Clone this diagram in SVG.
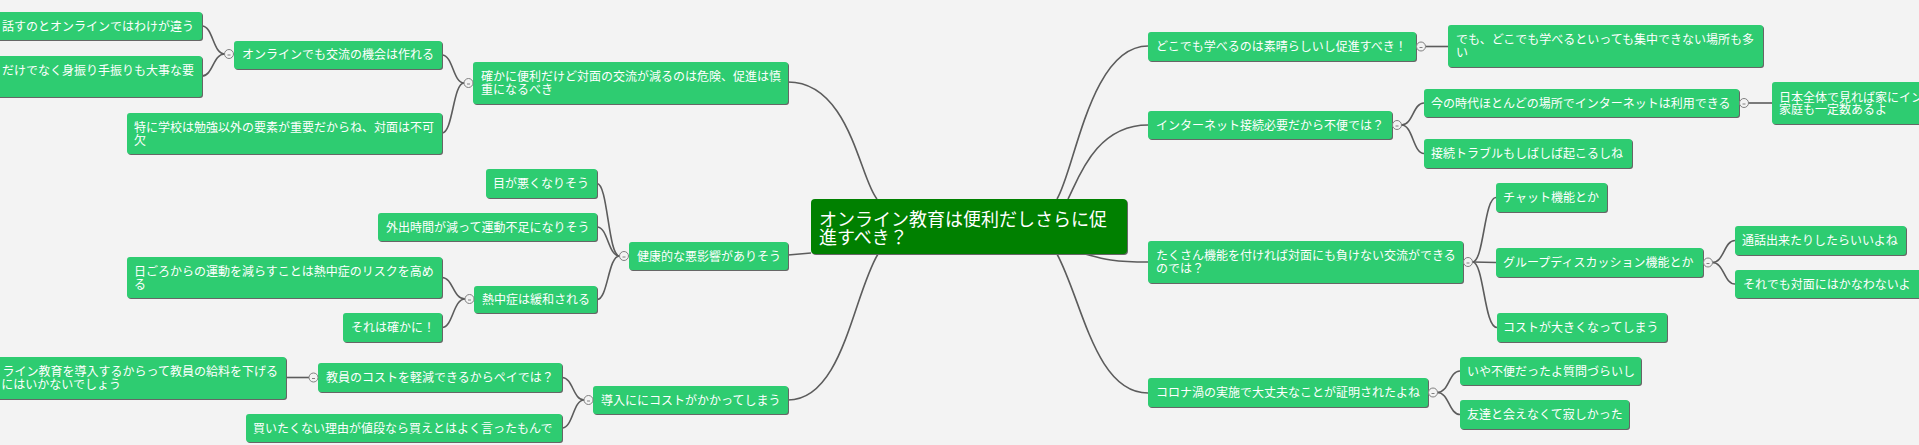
<svg xmlns="http://www.w3.org/2000/svg" width="1919" height="445" viewBox="0 0 1919 445">
<style>
.bg{fill:#f3f3f3}
.sh{fill:#666}
.n{fill:#2ecc71}
.root{fill:#008000}
.t{fill:#fff;font-family:"Noto Sans CJK JP","Noto Sans",sans-serif;font-size:12px}
.rt{fill:#fff;font-family:"Noto Sans CJK JP","Noto Sans",sans-serif;font-size:18px}
.l{fill:none;stroke:#5c5c5c;stroke-width:1.6}
.c{fill:#f3f3f3;stroke:#808080;stroke-width:1}
.d{stroke:#808080;stroke-width:1}
</style>
<rect class="bg" x="0" y="0" width="1919" height="445"/>
<g id="connectors">
<path class="l" d="M788 82 C850 82 860 180 877 199"/>
<path class="l" d="M788 255 L811 253"/>
<path class="l" d="M788 400 C843 400 853 295 878 254"/>
<path class="l" d="M1148 46 C1090 46 1075 170 1057 199"/>
<path class="l" d="M1148 125 C1095 125 1078 180 1068 199"/>
<path class="l" d="M1148 262 C1110 262 1100 258 1085 254"/>
<path class="l" d="M1148 393 C1095 393 1082 300 1057 254"/>
<path class="l" d="M464 83 C453 83 453 55 442 55"/>
<path class="l" d="M464 83 C453 83 453 133 442 133"/>
<path class="l" d="M224.5 54 C213 54 213 26 202 26"/>
<path class="l" d="M224.5 54 C213 54 213 76 202 76"/>
<path class="l" d="M619.5 256 C608 256 608 183.5 597 183.5"/>
<path class="l" d="M619.5 256 C608 256 608 227 597 227"/>
<path class="l" d="M619.5 256 C608 256 608 299.5 597 299.5"/>
<path class="l" d="M465 299 C453 299 453 277.5 442 277.5"/>
<path class="l" d="M465 299 C453 299 453 327.5 442 327.5"/>
<path class="l" d="M584 400 C573 400 573 377.5 562 377.5"/>
<path class="l" d="M584 400 C573 400 573 428 562 428"/>
<path class="l" d="M309 377.5 L286 377.5"/>
<path class="l" d="M1425.5 46.5 L1448 46.5"/>
<path class="l" d="M1401.5 125 C1413 125 1413 103 1424 103"/>
<path class="l" d="M1401.5 125 C1413 125 1413 153.5 1424 153.5"/>
<path class="l" d="M1748.5 103 L1772 103"/>
<path class="l" d="M1472.5 262 C1484 262 1484 197.5 1496 197.5"/>
<path class="l" d="M1472.5 262 L1496 262.5"/>
<path class="l" d="M1472.5 262 C1484 262 1484 327.5 1497 327.5"/>
<path class="l" d="M1712.5 262.5 C1724 262.5 1724 240.5 1735 240.5"/>
<path class="l" d="M1712.5 262.5 C1724 262.5 1724 284 1735 284"/>
<path class="l" d="M1437.5 392.5 C1449 392.5 1449 371 1460 371"/>
<path class="l" d="M1437.5 392.5 C1449 392.5 1449 414.5 1460 414.5"/>
</g>
<g id="root"><rect class="sh" x="812" y="200" width="316" height="55" rx="4"/><rect class="root" x="811" y="199" width="316" height="55" rx="4"/><text class="rt" x="819" y="226">オンライン教育は便利だしさらに促<tspan x="819" y="244">進すべき？</tspan></text></g>
<g id="n_kakuni"><rect class="sh" x="474" y="63" width="315" height="42" rx="3"/><rect class="n" x="473" y="62" width="315" height="42" rx="3"/><text class="t" x="481" y="81">確かに便利だけど対面の交流が減るのは危険、促進は慎<tspan x="481" y="94">重になるべき</tspan></text><circle class="c" cx="468.5" cy="83" r="4.5"/><line class="d" x1="467" y1="84" x2="470" y2="84"/></g>
<g id="n_online"><rect class="sh" x="235" y="42" width="208" height="28" rx="3"/><rect class="n" x="234" y="41" width="208" height="28" rx="3"/><text class="t" x="242" y="59">オンラインでも交流の機会は作れる</text><circle class="c" cx="229" cy="54" r="4.5"/><line class="d" x1="227.5" y1="55" x2="230.5" y2="55"/></g>
<g id="n_hanasu"><rect class="sh" x="-9" y="13" width="212" height="28" rx="3"/><rect class="n" x="-10" y="12" width="212" height="28" rx="3"/><text class="t" x="194" y="30.5" text-anchor="end">話すのとオンラインではわけが違う</text></g>
<g id="n_dake"><rect class="sh" x="-9" y="57" width="212" height="41" rx="3"/><rect class="n" x="-10" y="56" width="212" height="41" rx="3"/><text class="t" x="194" y="74.5" text-anchor="end">だけでなく身振り手振りも大事な要</text></g>
<g id="n_tokuni"><rect class="sh" x="128" y="114" width="315" height="41" rx="3"/><rect class="n" x="127" y="113" width="315" height="41" rx="3"/><text class="t" x="134" y="131.5">特に学校は勉強以外の要素が重要だからね、対面は不可<tspan x="134" y="144.5">欠</tspan></text></g>
<g id="n_me"><rect class="sh" x="487" y="170" width="111" height="29" rx="3"/><rect class="n" x="486" y="169" width="111" height="29" rx="3"/><text class="t" x="493" y="188">目が悪くなりそう</text></g>
<g id="n_gaishutsu"><rect class="sh" x="379" y="214" width="219" height="28" rx="3"/><rect class="n" x="378" y="213" width="219" height="28" rx="3"/><text class="t" x="386" y="231.5">外出時間が減って運動不足になりそう</text></g>
<g id="n_kenko"><rect class="sh" x="630" y="243" width="159" height="28" rx="3"/><rect class="n" x="629" y="242" width="159" height="28" rx="3"/><text class="t" x="637" y="260.5">健康的な悪影響がありそう</text><circle class="c" cx="624" cy="256" r="4.5"/><line class="d" x1="622.5" y1="257" x2="625.5" y2="257"/></g>
<g id="n_necchu"><rect class="sh" x="475" y="287" width="123" height="27" rx="3"/><rect class="n" x="474" y="286" width="123" height="27" rx="3"/><text class="t" x="482" y="303.5">熱中症は緩和される</text><circle class="c" cx="469.5" cy="299" r="4.5"/><line class="d" x1="468" y1="300" x2="471" y2="300"/></g>
<g id="n_higoro"><rect class="sh" x="128" y="258" width="315" height="41" rx="3"/><rect class="n" x="127" y="257" width="315" height="41" rx="3"/><text class="t" x="134" y="275.5">日ごろからの運動を減らすことは熱中症のリスクを高め<tspan x="134" y="288.5">る</tspan></text></g>
<g id="n_sore"><rect class="sh" x="344" y="314" width="99" height="29" rx="3"/><rect class="n" x="343" y="313" width="99" height="29" rx="3"/><text class="t" x="351" y="332">それは確かに！</text></g>
<g id="n_donyu"><rect class="sh" x="594" y="387" width="195" height="28" rx="3"/><rect class="n" x="593" y="386" width="195" height="28" rx="3"/><text class="t" x="601" y="404.5">導入ににコストがかかってしまう</text><circle class="c" cx="588.5" cy="400" r="4.5"/><line class="d" x1="587" y1="401" x2="590" y2="401"/></g>
<g id="n_kyoin"><rect class="sh" x="319" y="364" width="244" height="29" rx="3"/><rect class="n" x="318" y="363" width="244" height="29" rx="3"/><text class="t" x="326" y="382">教員のコストを軽減できるからペイでは？</text><circle class="c" cx="313.5" cy="377.5" r="4.5"/><line class="d" x1="312" y1="378.5" x2="315" y2="378.5"/></g>
<g id="n_kyuryo"><rect class="sh" x="-29" y="358" width="316" height="42" rx="3"/><rect class="n" x="-30" y="357" width="316" height="42" rx="3"/><text class="t" x="278" y="376" text-anchor="end">ライン教育を導入するからって教員の給料を下げる<tspan x="121" y="389">にはいかないでしょう</tspan></text></g>
<g id="n_kau"><rect class="sh" x="247" y="415" width="316" height="28" rx="3"/><rect class="n" x="246" y="414" width="316" height="28" rx="3"/><text class="t" x="253" y="432.5">買いたくない理由が値段なら買えとはよく言ったもんで</text></g>
<g id="n_doko"><rect class="sh" x="1149" y="33" width="268" height="29" rx="3"/><rect class="n" x="1148" y="32" width="268" height="29" rx="3"/><text class="t" x="1156" y="51">どこでも学べるのは素晴らしいし促進すべき！</text><circle class="c" cx="1421" cy="46.5" r="4.5"/><line class="d" x1="1419.5" y1="47.5" x2="1422.5" y2="47.5"/></g>
<g id="n_demo"><rect class="sh" x="1449" y="26" width="315" height="42" rx="3"/><rect class="n" x="1448" y="25" width="315" height="42" rx="3"/><text class="t" x="1456" y="44">でも、どこでも学べるといっても集中できない場所も多<tspan x="1456" y="57">い</tspan></text></g>
<g id="n_internet"><rect class="sh" x="1149" y="112" width="244" height="28" rx="3"/><rect class="n" x="1148" y="111" width="244" height="28" rx="3"/><text class="t" x="1156" y="129.5">インターネット接続必要だから不便では？</text><circle class="c" cx="1397" cy="125" r="4.5"/><line class="d" x1="1395.5" y1="126" x2="1398.5" y2="126"/></g>
<g id="n_ima"><rect class="sh" x="1425" y="90" width="315" height="28" rx="3"/><rect class="n" x="1424" y="89" width="315" height="28" rx="3"/><text class="t" x="1431" y="107.5">今の時代ほとんどの場所でインターネットは利用できる</text><circle class="c" cx="1744" cy="103" r="4.5"/><line class="d" x1="1742.5" y1="104" x2="1745.5" y2="104"/></g>
<g id="n_nihon"><rect class="sh" x="1773" y="83" width="160" height="42" rx="3"/><rect class="n" x="1772" y="82" width="160" height="42" rx="3"/><text class="t" x="1779" y="101.5">日本全体で見れば家にイン<tspan x="1779" y="113.5">家庭も一定数あるよ</tspan></text></g>
<g id="n_setsuzoku"><rect class="sh" x="1425" y="140" width="208" height="29" rx="3"/><rect class="n" x="1424" y="139" width="208" height="29" rx="3"/><text class="t" x="1431" y="158">接続トラブルもしばしば起こるしね</text></g>
<g id="n_takusan"><rect class="sh" x="1149" y="242" width="315" height="42" rx="3"/><rect class="n" x="1148" y="241" width="315" height="42" rx="3"/><text class="t" x="1156" y="260">たくさん機能を付ければ対面にも負けない交流ができる<tspan x="1156" y="273">のでは？</tspan></text><circle class="c" cx="1468" cy="262" r="4.5"/><line class="d" x1="1466.5" y1="263" x2="1469.5" y2="263"/></g>
<g id="n_chat"><rect class="sh" x="1497" y="184" width="111" height="29" rx="3"/><rect class="n" x="1496" y="183" width="111" height="29" rx="3"/><text class="t" x="1503" y="202">チャット機能とか</text></g>
<g id="n_group"><rect class="sh" x="1497" y="249" width="207" height="29" rx="3"/><rect class="n" x="1496" y="248" width="207" height="29" rx="3"/><text class="t" x="1503" y="267">グループディスカッション機能とか</text><circle class="c" cx="1708" cy="262.5" r="4.5"/><line class="d" x1="1706.5" y1="263.5" x2="1709.5" y2="263.5"/></g>
<g id="n_tsuwa"><rect class="sh" x="1736" y="227" width="171" height="29" rx="3"/><rect class="n" x="1735" y="226" width="171" height="29" rx="3"/><text class="t" x="1742" y="245">通話出来たりしたらいいよね</text></g>
<g id="n_soredemo"><rect class="sh" x="1736" y="271" width="186" height="28" rx="3"/><rect class="n" x="1735" y="270" width="186" height="28" rx="3"/><text class="t" x="1743" y="288.5">それでも対面にはかなわないよ</text></g>
<g id="n_cost"><rect class="sh" x="1498" y="314" width="170" height="29" rx="3"/><rect class="n" x="1497" y="313" width="170" height="29" rx="3"/><text class="t" x="1503" y="332">コストが大きくなってしまう</text></g>
<g id="n_corona"><rect class="sh" x="1149" y="379" width="280" height="29" rx="3"/><rect class="n" x="1148" y="378" width="280" height="29" rx="3"/><text class="t" x="1156" y="397">コロナ渦の実施で大丈夫なことが証明されたよね</text><circle class="c" cx="1433" cy="392.5" r="4.5"/><line class="d" x1="1431.5" y1="393.5" x2="1434.5" y2="393.5"/></g>
<g id="n_iya"><rect class="sh" x="1461" y="358" width="181" height="28" rx="3"/><rect class="n" x="1460" y="357" width="181" height="28" rx="3"/><text class="t" x="1467" y="375.5">いや不便だったよ質問づらいし</text></g>
<g id="n_tomodachi"><rect class="sh" x="1461" y="401" width="169" height="29" rx="3"/><rect class="n" x="1460" y="400" width="169" height="29" rx="3"/><text class="t" x="1467" y="419">友達と会えなくて寂しかった</text></g>
</svg>
